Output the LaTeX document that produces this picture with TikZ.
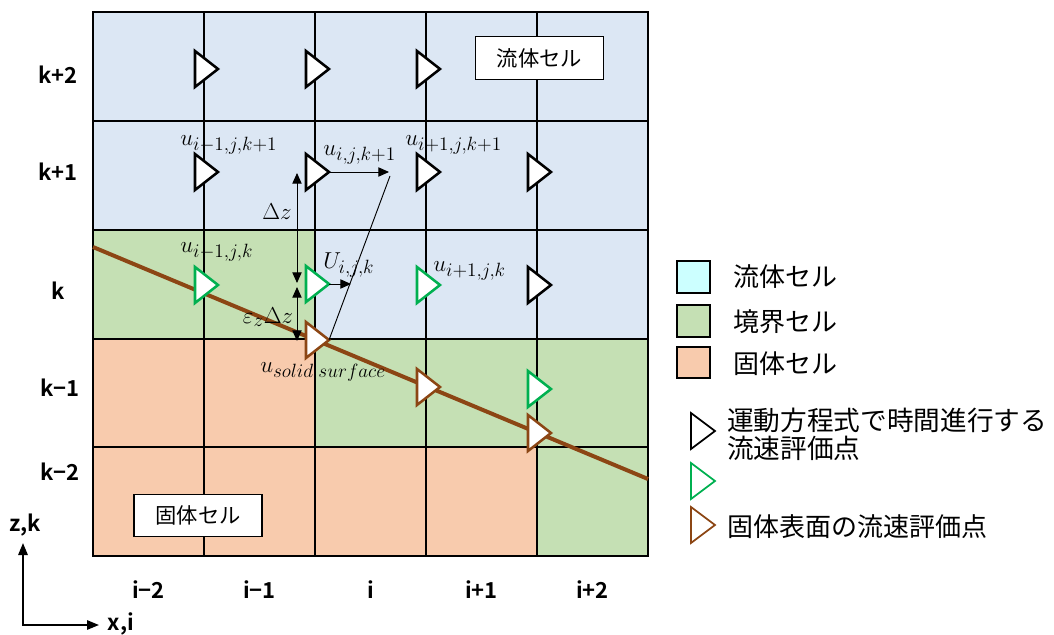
\documentclass[tikz,border=0pt]{standalone}
\usepackage{fontspec}
\newfontfamily\jp{Noto Sans CJK JP}
\newfontfamily\jpb{Noto Sans CJK JP Bold}
\usetikzlibrary{arrows.meta}
\DeclareMathSizes{17}{17}{13.5}{10.5}
\definecolor{fluidc}{HTML}{DCE7F4}
\definecolor{boundc}{HTML}{C5E0B4}
\definecolor{solidc}{HTML}{F8CBAD}
\definecolor{legfluid}{HTML}{CCFFFF}
\definecolor{brownc}{RGB}{140,70,20}
\definecolor{greenc}{HTML}{00B050}
\newcommand\mytri[4]{%
  \draw[tri,draw=#4] (#2-9,#3-18) -- (#2+14,#3) -- (#2-9,#3+18) -- cycle;
  \coordinate (#1) at (#2+14,#3);}
\newcommand\legtri[4]{%
  \draw[legtrist,draw=#4] (#2-12,#3-18) -- (#2+12,#3) -- (#2-12,#3+18) -- cycle;
  \coordinate (#1) at (#2+12,#3);}
\begin{document}
\begin{tikzpicture}[x=0.75pt,y=-0.75pt,
  gridline/.style={line width=1.5pt,draw=black},
  tri/.style={line width=1.9pt,fill=white,line join=miter},
  legtrist/.style={line width=1.3pt,line join=miter},
  dim/.style={line width=0.7pt,{Triangle[length=8pt,width=7pt]}-{Triangle[length=8pt,width=7pt]}},
  vec/.style={line width=0.7pt,-{Triangle[length=8pt,width=7pt]}},
  mlab/.style={anchor=west,inner sep=0pt,font=\fontsize{17}{20}\selectfont},
  rowlab/.style={font=\jpb\fontsize{16.5}{19}\selectfont,inner sep=0pt},
  cellbox/.style={draw=black,line width=0.8pt,fill=white,font=\jp\fontsize{16}{19}\selectfont,minimum width=96pt,minimum height=32pt,inner sep=0pt},
  legsq/.style={draw=black,line width=1.3pt,minimum width=25pt,minimum height=23.5pt,inner sep=0pt},
  legtext/.style={font=\jp\fontsize{19.5}{21}\selectfont,anchor=west,inner sep=0pt,align=left}]
\useasboundingbox (0,0) rectangle (1054,635);
% cells
\fill[fluidc] (93,12) rectangle (648,229.5);
\fill[fluidc] (315,229.5) rectangle (648,338.5);
\fill[boundc] (93,229.5) rectangle (315,338.5);
\fill[boundc] (315,338.5) rectangle (648,447);
\fill[boundc] (537,447) rectangle (648,556);
\fill[solidc] (93,338.5) rectangle (315,447);
\fill[solidc] (93,447) rectangle (537,556);
% grid
\draw[gridline] (93,12) rectangle (648,556);
\foreach \x in {204,315,426,537} \draw[gridline] (\x,12) -- (\x,556);
\foreach \y in {121,229.5,338.5,447} \draw[gridline] (93,\y) -- (648,\y);
% cell label boxes
\node[cellbox] (fluidbox) at (539.5,58) {流体セル};
\node[cellbox] (solidbox) at (198,515.5) {固体セル};
% solid surface
\coordinate (sL) at (93,247);
\coordinate (sR) at (648,479);
\draw[brownc,line width=3pt] (sL) -- (sR);
% evaluation points
\mytri{a1}{204}{69}{black}
\mytri{a2}{315}{69}{black}
\mytri{a3}{426}{69}{black}
\mytri{b1}{204}{172}{black}
\mytri{b2}{315}{172}{black}
\mytri{b3}{426}{172}{black}
\mytri{b4}{537}{172}{black}
\mytri{c1}{204}{285}{greenc}
\mytri{c2}{315}{284}{greenc}
\mytri{c3}{426}{285}{greenc}
\mytri{c4}{537}{285}{black}
\mytri{d4}{537}{389}{greenc}
\mytri{s2}{315}{340}{brownc}
\mytri{s3}{426}{387}{brownc}
\mytri{s4}{537}{433}{brownc}
% vectors and interpolation line
\coordinate (uEnd) at (389,172);
\coordinate (lTop) at (390,176);
\coordinate (UEnd) at (351,284);
\draw[vec] (b2) -- (uEnd);
\draw[line width=0.7pt] (lTop) -- (s2);
\draw[vec] (c2) -- (UEnd);
% dimension arrows
\coordinate (dz1) at (297,173);
\coordinate (dz2) at (297,283);
\coordinate (ez1) at (297,287);
\coordinate (ez2) at (297,341);
\draw[dim] (dz1) -- (dz2);
\draw[dim] (ez1) -- (ez2);
\node[mlab,anchor=center] (dzl) at (277,212) {$\Delta z$};
\node[mlab,anchor=center] (ezl) at (268,317) {$\varepsilon_z\Delta z$};
% math labels
\node[mlab] (l1) at (180,145) {$u_{i-1,j,k+1}$};
\node[mlab] (l2) at (323,155) {$u_{i,j,k+1}$};
\node[mlab] (l3) at (405,145) {$u_{i+1,j,k+1}$};
\node[mlab] (l4) at (180,252) {$u_{i-1,j,k}$};
\node[mlab] (l5) at (323,265) {$U_{i,j,k}$};
\node[mlab] (l6) at (433,271) {$u_{i+1,j,k}$};
\node[mlab] (l7) at (260,372) {$u_{solid\;surface}$};
% row and column labels
\node[rowlab] (r1) at (58,75) {k+2};
\node[rowlab] (r2) at (58,172) {k+1};
\node[rowlab] (r3) at (58,291) {k};
\node[rowlab] (r4) at (60,388) {k−1};
\node[rowlab] (r5) at (60,472) {k−2};
\node[rowlab] (c1l) at (148.5,590) {i−2};
\node[rowlab] (c2l) at (259.5,590) {i−1};
\node[rowlab] (c3l) at (370.5,590) {i};
\node[rowlab] (c4l) at (481.5,590) {i+1};
\node[rowlab] (c5l) at (592.5,590) {i+2};
% axes
\coordinate (O) at (23,625);
\coordinate (zt) at (23,543);
\coordinate (xt) at (99,625);
\draw[line width=1.4pt,{Triangle[length=9pt,width=7pt]}-{Triangle[length=9pt,width=7pt]}] (zt) -- (O) -- (xt);
\node[rowlab] (zl) at (25,525) {z,k};
\node[rowlab] (xl) at (121,624) {x,i};
% legend
\node[legsq,fill=legfluid] (q1) at (693.5,277) {};
\node[legsq,fill=boundc] (q2) at (693.5,321) {};
\node[legsq,fill=solidc] (q3) at (693.5,362.5) {};
\node[legtext] (t1) at (733,277) {流体セル};
\node[legtext] (t2) at (733,322) {境界セル};
\node[legtext] (t3) at (733,364) {固体セル};
\legtri{g1}{703}{431}{black}
\legtri{g2}{703}{481}{greenc}
\legtri{g3}{703}{525}{brownc}
\node[legtext,font=\jp\fontsize{20}{21}\selectfont] (t4) at (727,434) {運動方程式で時間進行する\\流速評価点};
\node[legtext] (t6) at (727,527) {固体表面の流速評価点};
\end{tikzpicture}
\end{document}
